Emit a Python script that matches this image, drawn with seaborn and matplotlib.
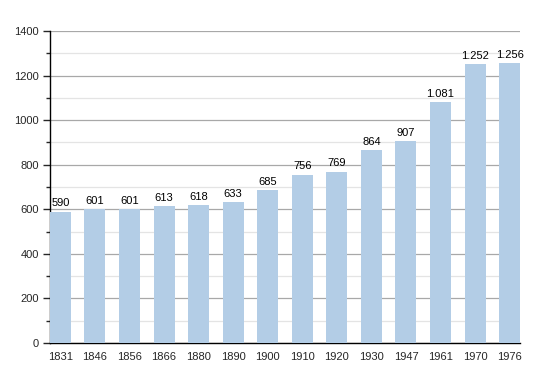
import matplotlib
matplotlib.use("Agg")
import matplotlib.pyplot as plt
import seaborn as sns
import pandas as pd
from matplotlib.ticker import MultipleLocator

years = ["1831", "1846", "1856", "1866", "1880", "1890", "1900", "1910",
         "1920", "1930", "1947", "1961", "1970", "1976"]
population = [590, 601, 601, 613, 618, 633, 685, 756, 769, 864, 907, 1081, 1252, 1256]
labels = ["590", "601", "601", "613", "618", "633", "685", "756", "769",
          "864", "907", "1.081", "1.252", "1.256"]

df = pd.DataFrame({"year": years, "pop": population})

sns.set_style("white")
plt.rcParams['font.family'] = ['Liberation Sans', 'DejaVu Sans']

fig = plt.figure(figsize=(5.5, 3.73), dpi=100)
ax = fig.add_axes([50/550, 30/373, 470/550, 312/373])

sns.barplot(data=df, x="year", y="pop", color="#b3cde6", width=0.61,
            saturation=1, linewidth=0, edgecolor="none", ax=ax, zorder=3)

ax.set_ylim(0, 1400)
ax.set_xlim(-0.30, 13.30)
ax.yaxis.set_major_locator(MultipleLocator(200))
ax.yaxis.set_minor_locator(MultipleLocator(100))
ax.grid(which="major", axis="y", color="#a8a8a8", linewidth=0.9, zorder=0)
ax.grid(which="minor", axis="y", color="#e4e4e4", linewidth=0.9, zorder=0)
ax.set_axisbelow(True)

for s in ["top", "right"]:
    ax.spines[s].set_visible(False)
ax.spines["left"].set_color("black")
ax.spines["bottom"].set_color("black")
ax.spines["left"].set_linewidth(1)
ax.spines["bottom"].set_linewidth(1)

ax.tick_params(axis="y", which="major", left=True, length=5, width=1, labelsize=8, pad=3)
ax.tick_params(axis="y", which="minor", left=True, length=3, width=1)
ax.tick_params(axis="x", bottom=False, labelsize=8, pad=3)
ax.set_xlabel("")
ax.set_ylabel("")

for i, (v, t) in enumerate(zip(population, labels)):
    ax.text(i, v + 15, t, ha="center", va="bottom", fontsize=8, color="black")

fig.savefig("out.png", dpi=100)
